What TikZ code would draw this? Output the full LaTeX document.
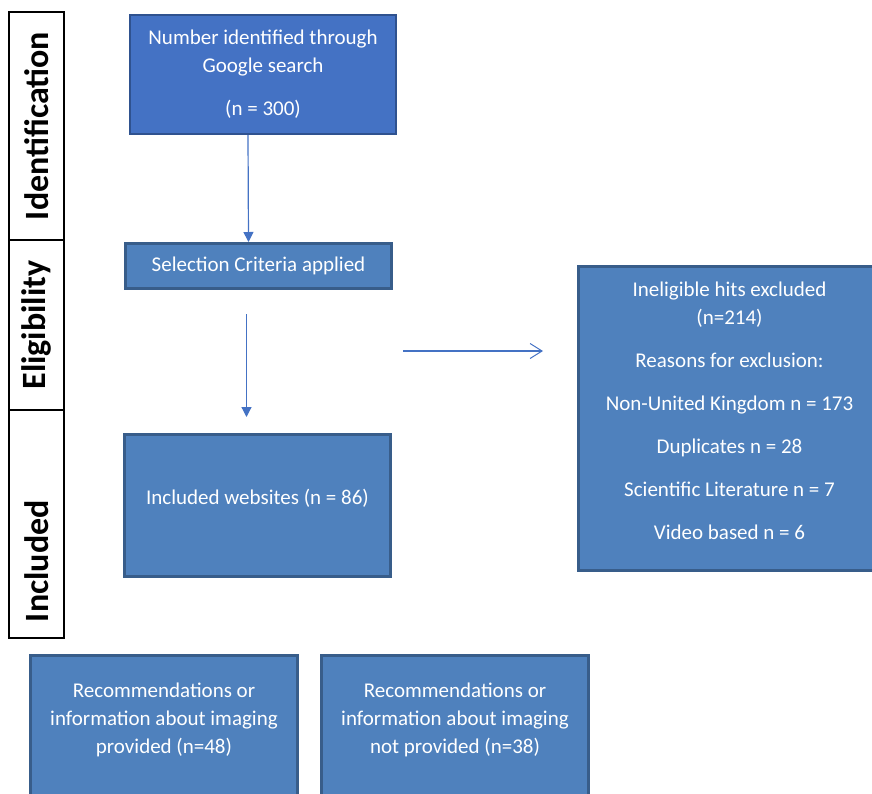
\documentclass[tikz,border=0pt]{standalone}
\usepackage{fontspec}
\setmainfont{Carlito}
\usetikzlibrary{arrows.meta}
\definecolor{topfill}{HTML}{4472C4}
\definecolor{topline}{HTML}{2F528F}
\definecolor{boxfill}{HTML}{4F81BD}
\definecolor{boxline}{HTML}{385D8A}
\definecolor{arrowblue}{HTML}{4472C4}
\begin{document}
\begin{tikzpicture}[x=1pt, y=-1pt,
	box/.style={draw=boxline, fill=boxfill, line width=3pt, text=white, align=center,
		font=\fontsize{21}{28}\selectfont, inner sep=0pt, anchor=north west},
	stage/.style={draw, line width=1.5pt, rotate=90, minimum height=55, inner sep=0pt,
		font=\fontsize{34}{40}\selectfont\bfseries},
	flow/.style={draw=arrowblue, line width=1.2pt, -{Triangle[width=10pt,length=10pt]}}]

	\clip (0,0) rectangle (872,793);

	\node[stage, minimum width=228] (ident) at (36.5,126) {Identification};
	\node[stage, minimum width=170] (elig) at (36.5,325) {Eligibility\hspace{6pt}};
	\node[stage, minimum width=228, text width=196pt, align=left] (incl) at (36.5,524) {Included};

	\node[box, fill=topfill, draw=topline, line width=2pt, minimum width=266, minimum height=119] (search) at (129,14)
		{Number identified through\\Google search\\[15pt](n = 300)};
	\node[box, minimum width=266, minimum height=45] (sel) at (124,242) {Selection Criteria applied};
	\node[box, minimum width=266, minimum height=142] (inc) at (123,433) {Included websites (n = 86)\\[-10pt]\mbox{}};
	\node[box, minimum width=302, minimum height=304] (excl) at (577,265)
		{Ineligible hits excluded\\(n=214)\\[15pt]Reasons for exclusion:\\[15pt]Non-United Kingdom n = 173\\[15pt]Duplicates n = 28\\[15pt]Scientific Literature n = 7\\[15pt]Video based n = 6\\[-12pt]\mbox{}};
	\node[box, minimum width=267, minimum height=170] (prov) at (29,654)
		{Recommendations or\\information about imaging\\provided (n=48)\\[16pt]\mbox{}};
	\node[box, minimum width=267, minimum height=170] (notprov) at (320,654)
		{Recommendations or\\information about imaging\\not provided (n=38)\\[16pt]\mbox{}};

	\draw[flow] ([xshift=-15]search.south) -- ([xshift=-10]sel.north);
	\draw[flow, shorten <=24pt, shorten >=16pt] ([xshift=-12]sel.south) -- ([xshift=-11]inc.north);

	\coordinate (gapl) at (403,351);
	\coordinate (gapr) at (543,351);
	\draw[arrowblue, line width=1.2pt, -{Straight Barb[length=12pt,width=15pt,line width=1pt]}] (gapl) -- (gapr);
\end{tikzpicture}
\end{document}
